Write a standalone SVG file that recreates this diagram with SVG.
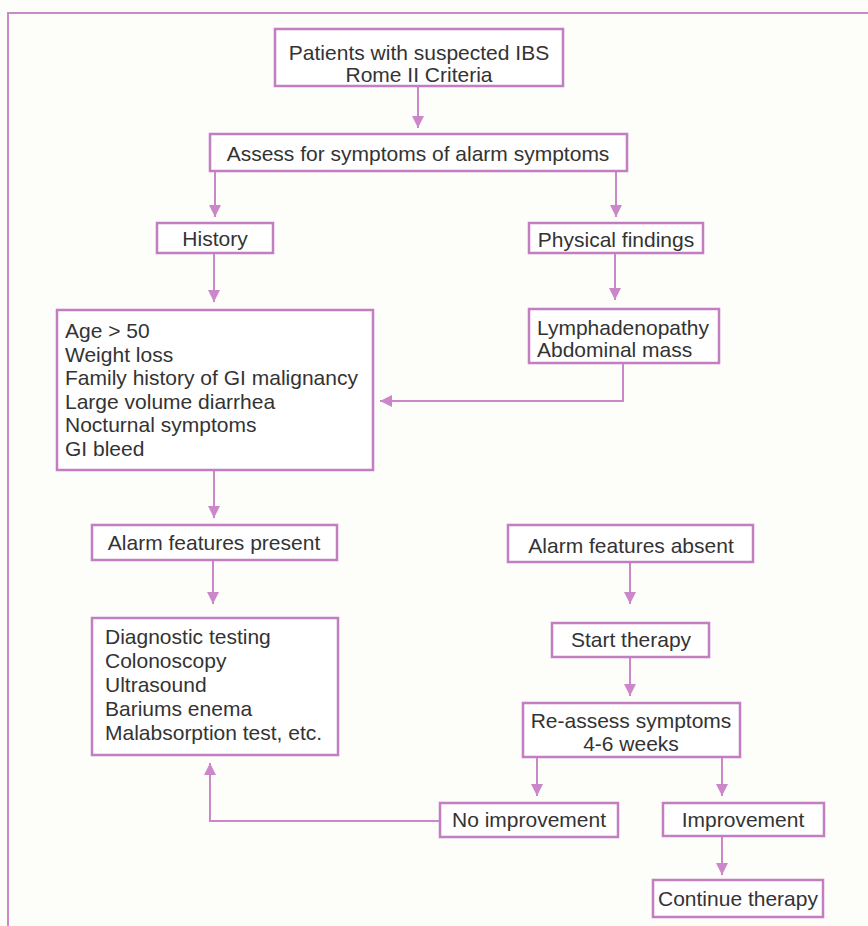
<svg xmlns="http://www.w3.org/2000/svg" width="868" height="926" viewBox="0 0 868 926">
  <style>
    .box { fill: #ffffff; stroke: #c37dc1; stroke-width: 2.5; }
    .frame { fill: none; stroke: #c98bc7; stroke-width: 2; }
    .lbl { font-family: "Liberation Sans", Arial, Helvetica, sans-serif; font-size: 21px; fill: #333333; }
    .c { text-anchor: middle; }
    .wire { fill: none; stroke: #cb87c9; stroke-width: 2; }
  </style>
  <defs>
    <marker id="arrow" viewBox="0 0 12 12" refX="12" refY="6" markerWidth="12" markerHeight="12" markerUnits="userSpaceOnUse" orient="auto">
      <path d="M0,0 L12,6 L0,12 Z" fill="#cb87c9"/>
    </marker>
  </defs>

  <rect x="0" y="0" width="868" height="926" fill="#fdfdfa"/>
  <path class="frame" d="M8,926 V13 H868"/>

  <g id="connectors">
    <line class="wire" x1="418" y1="86" x2="418" y2="128" marker-end="url(#arrow)"/>
    <line class="wire" x1="215" y1="171" x2="215" y2="217" marker-end="url(#arrow)"/>
    <line class="wire" x1="616" y1="171" x2="616" y2="217" marker-end="url(#arrow)"/>
    <line class="wire" x1="214" y1="253" x2="214" y2="302" marker-end="url(#arrow)"/>
    <line class="wire" x1="615" y1="253" x2="615" y2="300" marker-end="url(#arrow)"/>
    <path class="wire" d="M623,363 V401 H380" marker-end="url(#arrow)"/>
    <line class="wire" x1="214" y1="470" x2="214" y2="518" marker-end="url(#arrow)"/>
    <line class="wire" x1="213" y1="560" x2="213" y2="604" marker-end="url(#arrow)"/>
    <line class="wire" x1="630" y1="562" x2="630" y2="604" marker-end="url(#arrow)"/>
    <line class="wire" x1="630" y1="657" x2="630" y2="696" marker-end="url(#arrow)"/>
    <line class="wire" x1="537" y1="757" x2="537" y2="796" marker-end="url(#arrow)"/>
    <line class="wire" x1="722" y1="757" x2="722" y2="796" marker-end="url(#arrow)"/>
    <line class="wire" x1="722" y1="836" x2="722" y2="875" marker-end="url(#arrow)"/>
    <path class="wire" d="M440,821 H210 V763" marker-end="url(#arrow)"/>
  </g>

  <g id="patients">
    <rect class="box" x="275" y="29" width="288" height="57"/>
    <text class="lbl c" x="419" y="59.5">Patients with suspected IBS</text>
    <text class="lbl c" x="419" y="81.5">Rome II Criteria</text>
  </g>

  <g id="assess">
    <rect class="box" x="210" y="134" width="417" height="37"/>
    <text class="lbl c" x="418" y="161">Assess for symptoms of alarm symptoms</text>
  </g>

  <g id="history">
    <rect class="box" x="157" y="223" width="116" height="30"/>
    <text class="lbl c" x="215" y="246">History</text>
  </g>

  <g id="physical">
    <rect class="box" x="529" y="223" width="174" height="30"/>
    <text class="lbl c" x="616" y="247">Physical findings</text>
  </g>

  <g id="history-items">
    <rect class="box" x="57" y="310" width="316" height="160"/>
    <text class="lbl" x="65" y="338">Age &gt; 50</text>
    <text class="lbl" x="65" y="361.6">Weight loss</text>
    <text class="lbl" x="65" y="385.2">Family history of GI malignancy</text>
    <text class="lbl" x="65" y="408.8">Large volume diarrhea</text>
    <text class="lbl" x="65" y="432.4">Nocturnal symptoms</text>
    <text class="lbl" x="65" y="456">GI bleed</text>
  </g>

  <g id="physical-items">
    <rect class="box" x="529" y="309" width="190" height="54"/>
    <text class="lbl" x="537" y="335">Lymphadenopathy</text>
    <text class="lbl" x="537" y="357">Abdominal mass</text>
  </g>

  <g id="alarm-present">
    <rect class="box" x="92" y="525" width="245" height="35"/>
    <text class="lbl c" x="214" y="550">Alarm features present</text>
  </g>

  <g id="diagnostic">
    <rect class="box" x="92" y="618" width="246" height="137"/>
    <text class="lbl" x="105" y="644">Diagnostic testing</text>
    <text class="lbl" x="105" y="668">Colonoscopy</text>
    <text class="lbl" x="105" y="692">Ultrasound</text>
    <text class="lbl" x="105" y="716">Bariums enema</text>
    <text class="lbl" x="105" y="740">Malabsorption test, etc.</text>
  </g>

  <g id="alarm-absent">
    <rect class="box" x="508" y="525" width="245" height="37"/>
    <text class="lbl c" x="631" y="553">Alarm features absent</text>
  </g>

  <g id="start-therapy">
    <rect class="box" x="552" y="623" width="157" height="34"/>
    <text class="lbl c" x="631" y="647">Start therapy</text>
  </g>

  <g id="reassess">
    <rect class="box" x="523" y="703" width="217" height="54"/>
    <text class="lbl c" x="631" y="728">Re-assess symptoms</text>
    <text class="lbl c" x="631" y="751">4-6 weeks</text>
  </g>

  <g id="no-improvement">
    <rect class="box" x="440" y="803" width="178" height="34"/>
    <text class="lbl c" x="529" y="827">No improvement</text>
  </g>

  <g id="improvement">
    <rect class="box" x="663" y="803" width="161" height="33"/>
    <text class="lbl c" x="743" y="827">Improvement</text>
  </g>

  <g id="continue-therapy">
    <rect class="box" x="653" y="880" width="170" height="37"/>
    <text class="lbl c" x="738" y="906">Continue therapy</text>
  </g>
</svg>
